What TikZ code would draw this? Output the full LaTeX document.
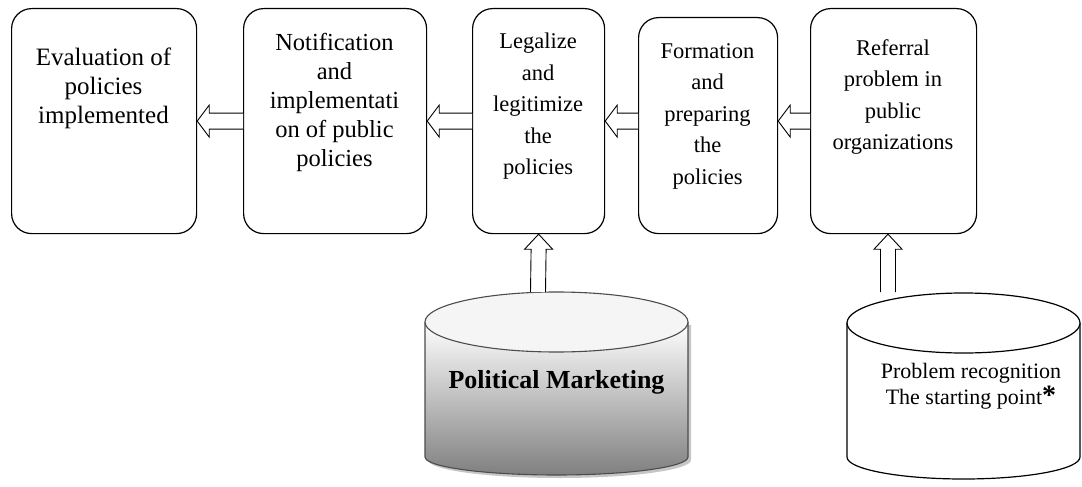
\documentclass[tikz,border=0pt]{standalone}
\usepackage{fontspec}
\setmainfont{Liberation Serif}
\usetikzlibrary{calc}

% hollow block arrow pointing left: #1 = tail point, #2 = tip point
\newcommand{\leftblock}[2]{%
  \draw[blockarrow] ($(#1)+(0,-8)$) -- ($(#2)+(12,-8)$) -- ($(#2)+(12,-16)$) -- (#2)
    -- ($(#2)+(12,16)$) -- ($(#2)+(12,8)$) -- ($(#1)+(0,8)$);}
% hollow block arrow pointing up: #1 = foot point, #2 = tip point
\newcommand{\upblock}[2]{%
  \draw[blockarrow] ($(#1)+(-7.5,0)$) -- ($(#2)+(-7.5,15)$) -- ($(#2)+(-14,15)$) -- (#2)
    -- ($(#2)+(14,15)$) -- ($(#2)+(7.5,15)$) -- ($(#1)+(7.5,0)$);}

\begin{document}
\begin{tikzpicture}[x=1pt,y=-1pt,
  stage/.style={draw=black, line width=1.2pt, rounded corners=20pt, fill=white,
                inner sep=0pt, anchor=north west},
  stagetext/.style={align=center, inner sep=0pt, anchor=north},
  blockarrow/.style={draw=black, fill=white, line width=0.9pt, line join=miter}]
\useasboundingbox (0,0) rectangle (1082,487);

% process stages
\node[stage, minimum width=185pt, minimum height=225pt] (b1) at (11,8) {};
\node[stage, minimum width=183pt, minimum height=225pt] (b2) at (243,8) {};
\node[stage, minimum width=132pt, minimum height=225pt] (b3) at (472,8) {};
\node[stage, minimum width=139pt, minimum height=216pt] (b4) at (638,17) {};
\node[stage, minimum width=166pt, minimum height=225pt] (b5) at (810,8) {};

\node[stagetext, font=\fontsize{25}{29}\selectfont] (t1) at (103.5,48)
  {Evaluation of\\policies\\implemented};
\node[stagetext, font=\fontsize{24.5}{29}\selectfont] (t2) at (334.5,33)
  {Notification\\and\\implementati\\on of public\\policies};
\node[stagetext, font=\fontsize{22.5}{31.5}\selectfont] (t3) at (538,33)
  {Legalize\\and\\legitimize\\the\\policies};
\node[stagetext, font=\fontsize{22.5}{31.5}\selectfont] (t4) at (707.5,43)
  {Formation\\and\\preparing\\the\\policies};
\node[stagetext, font=\fontsize{22.5}{31.5}\selectfont] (t5) at (893,39)
  {Referral\\problem in\\public\\organizations};

% political marketing cylinder (shaded, with a soft shadow)
\fill[gray!45] (428,325) -- (428,460)
  arc[start angle=180, end angle=360, x radius=131.5pt, y radius=18pt] -- (691,325) -- cycle;
\shade[top color=white, bottom color=black!50] (425,322) -- (425,457)
  arc[start angle=180, end angle=360, x radius=131.5pt, y radius=18pt] -- (688,322) -- cycle;
\draw[black!70, line width=1.1pt] (425,322) -- (425,457)
  arc[start angle=180, end angle=360, x radius=131.5pt, y radius=18pt] -- (688,322);
\draw[black!70, line width=1.1pt, fill=gray!8] (556.5,322) ellipse [x radius=131.5pt, y radius=30pt];
\node[font=\fontsize{26}{30}\selectfont\bfseries] (pm) at (556.5,382) {Political Marketing};
\coordinate (pmtop) at (538,292);

% problem recognition cylinder
\draw[black, line width=1.2pt, fill=white] (847,323) -- (847,457)
  arc[start angle=180, end angle=360, x radius=116.5pt, y radius=22pt] -- (1080,323);
\draw[black, line width=1.2pt, fill=white] (963.5,323) ellipse [x radius=116.5pt, y radius=30pt];
\node[align=center, inner sep=0pt, font=\fontsize{22}{26}\selectfont] (pr) at (971,386)
  {Problem recognition\\The starting point{\fontsize{28}{28}\selectfont\textbf{*}}};
\coordinate (prtop) at (888,292);

% flow between the stages
\path (b4.west |- b3.east) coordinate (s43);
\path (b5.west |- b3.east) coordinate (s54);
\path (prtop |- b5.south) coordinate (tip5);
\leftblock{b2.west}{b1.east}
\leftblock{b3.west}{b2.east}
\leftblock{s43}{b3.east}
\leftblock{s54}{b4.east |- b3.east}
\upblock{pmtop}{b3.south}
\upblock{prtop}{tip5}
\end{tikzpicture}
\end{document}
